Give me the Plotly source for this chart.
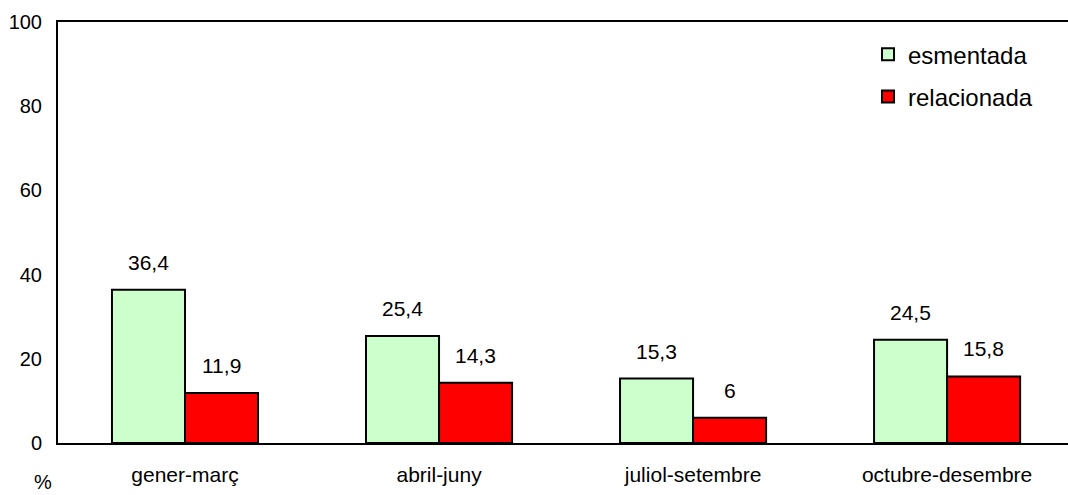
import plotly.graph_objects as go

categories = ["gener-març", "abril-juny", "juliol-setembre", "octubre-desembre"]
esmentada = [36.4, 25.4, 15.3, 24.5]
relacionada = [11.9, 14.3, 6.0, 15.8]
esmentada_labels = ["36,4", "25,4", "15,3", "24,5"]
relacionada_labels = ["11,9", "14,3", "6", "15,8"]
y_ticks = [0, 20, 40, 60, 80, 100]

FONT = "Liberation Sans, Arial, sans-serif"

fig = go.Figure()
fig.add_trace(go.Bar(
    name="esmentada", x=categories, y=esmentada, legendgroup="g1",
    marker=dict(color="#ccffcc", line=dict(color="black", width=2)),
))
fig.add_trace(go.Bar(
    name="relacionada", x=categories, y=relacionada, legendgroup="g2",
    marker=dict(color="#ff0000", line=dict(color="black", width=2)),
))

bw = 0.2875
annotations = []
for i, c in enumerate(categories):
    annotations.append(dict(x=i - bw / 2, y=esmentada[i], xref="x", yref="y",
                            text=esmentada_labels[i], showarrow=False,
                            yanchor="bottom", yshift=14,
                            font=dict(family=FONT, size=21, color="black")))
    annotations.append(dict(x=i + bw / 2, y=relacionada[i], xref="x", yref="y",
                            text=relacionada_labels[i], showarrow=False,
                            yanchor="bottom", yshift=14,
                            font=dict(family=FONT, size=21, color="black")))
annotations.append(dict(x=-0.0149, y=-0.1235, xref="paper", yref="paper", text="%",
                        showarrow=False, xanchor="center", yanchor="bottom",
                        font=dict(family=FONT, size=20, color="black")))

fig.update_layout(
    width=1068, height=495,
    margin=dict(l=58, r=0, t=22, b=52),
    paper_bgcolor="white", plot_bgcolor="white",
    barmode="group", bargap=0.425, bargroupgap=0,
    font=dict(family=FONT, size=20, color="black"),
    showlegend=True,
    legend=dict(x=0.802, y=0.976, xanchor="left", yanchor="top",
                bgcolor="rgba(0,0,0,0)", font=dict(family=FONT, size=24, color="black"),
                itemwidth=30, tracegroupgap=8),
    annotations=annotations,
    xaxis=dict(range=[-0.5, 3.476], showline=True, linecolor="black", linewidth=2,
               mirror=True, ticks="", showgrid=False, zeroline=False,
               ticklabelstandoff=12,
               tickfont=dict(family=FONT, size=21, color="black")),
    yaxis=dict(range=[0, 100], tickvals=y_ticks, showline=True, linecolor="black",
               linewidth=2, ticks="", showgrid=False, zeroline=False,
               ticklabelstandoff=10,
               tickfont=dict(family=FONT, size=20, color="black")),
)

fig.write_html(
    "out.html",
    config={"displayModeBar": False},
    post_script="document.body.style.margin='0px';document.body.style.overflow='hidden';",
)
